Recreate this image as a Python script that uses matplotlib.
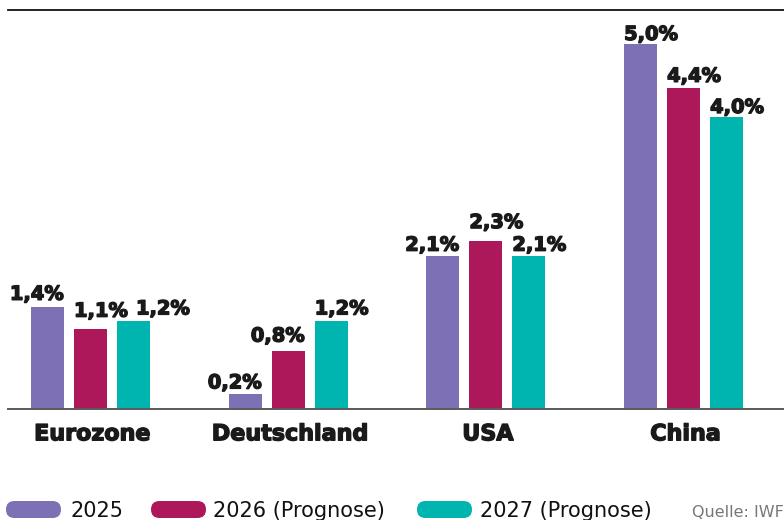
import numpy as np
import matplotlib.pyplot as plt
import matplotlib.patheffects as pe
from matplotlib.patches import FancyBboxPatch

# Data
regions = ["Eurozone", "Deutschland", "USA", "China"]
series_names = ["2025", "2026 (Prognose)", "2027 (Prognose)"]
growth_2025 = [1.4, 0.2, 2.1, 5.0]
growth_2026 = [1.1, 0.8, 2.3, 4.4]
growth_2027 = [1.2, 1.2, 2.1, 4.0]

colors = ["#7D70B4", "#AD185A", "#00B4AF"]

# label placement (alignment to bar edge, extra dx / gap above bar in px)
label_ha = [
    ["right", "right", "right", "left"],
    ["left", "right", "left", "left"],
    ["left", "left", "left", "left"],
]
label_dx = [[0, 0, 0, 0], [0, 0, 0, 0], [19, 0, 0, 0]]
label_gap = [[7, 6, 5, 4], [12, 9, 13, 6], [7, 7, 5, 4]]

W, H, DPI = 784, 520, 100
fig = plt.figure(figsize=(W / DPI, H / DPI), dpi=DPI)
ax = fig.add_axes([8 / W, (H - 409) / H, 776 / W, 399 / H])

group_px = 197.7
step = 43 / group_px
width = 33 / group_px
x = np.arange(len(regions))

# heavier look for the bold labels
heavy = [pe.withStroke(linewidth=1.0, foreground="#1a1a1a")]

all_series = [growth_2025, growth_2026, growth_2027]
for i, vals in enumerate(all_series):
    xs = x + (i - 1) * step
    ax.bar(xs, vals, width=width, color=colors[i], edgecolor="none", zorder=2)
    for j, v in enumerate(vals):
        ha = label_ha[i][j]
        bx = xs[j] + width / 2 if ha == "right" else xs[j] - width / 2
        ax.annotate(
            f"{v:.1f}%".replace(".", ","),
            xy=(bx, v),
            xytext=(label_dx[i][j] * 0.72, label_gap[i][j] * 0.72),
            textcoords="offset points",
            ha=ha,
            va="baseline",
            fontsize=14,
            fontweight="bold",
            color="#1a1a1a",
            path_effects=heavy,
        )

ax.set_xlim(-82.5 / group_px, (784 - 90.5) / group_px)
ax.set_ylim(0, 399 / 73)
ax.set_xticks(x + 2 / group_px)
ax.set_xticklabels(regions, fontsize=16, fontweight="bold", color="#1a1a1a")
for lbl in ax.get_xticklabels():
    lbl.set_path_effects(heavy)
ax.tick_params(axis="x", length=0, pad=11)
ax.set_yticks([])

ax.spines["left"].set_visible(False)
ax.spines["right"].set_visible(False)
ax.spines["top"].set_color("#111111")
ax.spines["top"].set_linewidth(1.3)
ax.spines["bottom"].set_color("#5a5a5a")
ax.spines["bottom"].set_linewidth(1.4)

# Legend with rounded pills (pixel coordinates from bottom-left)
pill_x = [6, 151, 417]
text_x = [70, 213, 480]
for i, name in enumerate(series_names):
    pill = FancyBboxPatch(
        (pill_x[i], 2), 55, 17,
        boxstyle="round,pad=0,rounding_size=8.5",
        facecolor=colors[i], edgecolor="none", transform=None,
    )
    fig.add_artist(pill)
    fig.text(text_x[i] / W, 3 / H, name, fontsize=15, color="#111111",
             ha="left", va="baseline")

fig.text(692 / W, 3 / H, "Quelle: IWF", fontsize=11.5, color="#777777",
         ha="left", va="baseline")

plt.savefig("out.png", dpi=DPI)
